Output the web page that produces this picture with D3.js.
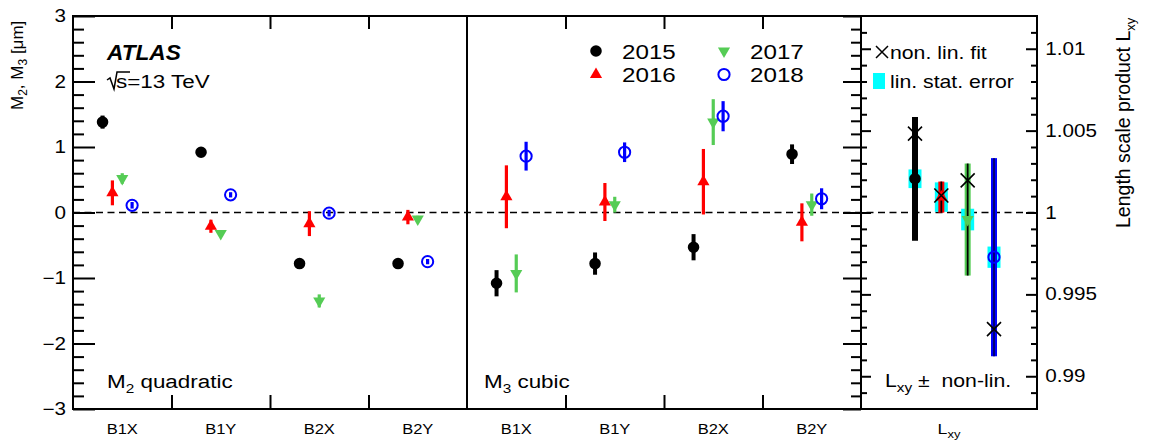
<!DOCTYPE html>
<html>
<head>
<meta charset="utf-8">
<script src="https://cdn.jsdelivr.net/npm/d3@7/dist/d3.min.js"></script>
<style>
  html, body { margin: 0; padding: 0; background: #fff; }
  svg { display: block; }
  text { font-family: "Liberation Sans", Arial, Helvetica, sans-serif; fill: #000; }
</style>
</head>
<body>
<svg id="chart" width="1150" height="440"></svg>
<script>
// ---------------- DATA ----------------
const bins = ["B1X", "B1Y", "B2X", "B2Y"];
const years = ["2015", "2016", "2017", "2018"];
const yearColors = ["#000000", "#ff0000", "#55cc55", "#0000ff"];

// M2 quadratic [µm], per year, order B1X, B1Y, B2X, B2Y
const m2_2015 = [1.38, 0.92, -0.78, -0.78];
const m2_2015_err = [0.10, 0.04, 0.06, 0.04];
const m2_2016 = [0.30, -0.21, -0.17, -0.07];
const m2_2016_err = [0.19, 0.10, 0.19, 0.11];
const m2_2017 = [0.52, -0.32, -1.35, -0.10];
const m2_2017_err = [0.08, 0.05, 0.10, 0.05];
const m2_2018 = [0.11, 0.27, -0.01, -0.75];
const m2_2018_err = [0.05, 0.04, 0.05, 0.04];

// M3 cubic [µm]
const m3_2015 = [-1.08, -0.78, -0.53, 0.89];
const m3_2015_err = [0.20, 0.17, 0.20, 0.15];
const m3_2016 = [0.24, 0.16, 0.47, -0.15];
const m3_2016_err = [0.48, 0.29, 0.50, 0.29];
const m3_2017 = [-0.93, 0.12, 1.38, 0.12];
const m3_2017_err = [0.29, 0.12, 0.35, 0.17];
const m3_2018 = [0.86, 0.92, 1.47, 0.21];
const m3_2018_err = [0.22, 0.15, 0.23, 0.16];

// Length scale product Lxy, per year
const lxyValue = [1.00206, 1.00094, 0.99957, 0.99727];
const lxyStatErr = [0.00057, 0.00090, 0.00066, 0.00065];
const lxyNonLinErr = [0.00377, 0.00095, 0.00342, 0.00605];
const lxyNonLinFit = [1.00482, 1.00104, 1.00196, 0.99288];

const leftTicks = [-3, -2, -1, 0, 1, 2, 3];
const rightTicks = [0.99, 0.995, 1, 1.005, 1.01];

// ---------------- LAYOUT ----------------
const svg = d3.select("#chart");
const X0 = 73, XM = 861, X1 = 1037, YT = 16, YB = 409;
const SX = 1.18; // horizontal glyph stretch of the reference text

const xBin = d3.scaleLinear().domain([0, 8]).range([X0, XM]);
const yearPos = d3.scalePoint().domain(years).range([0.3, 0.6]);
const xLxy = d3.scalePoint().domain(years).range([915, 994]);
const yL = d3.scaleLinear().domain([-3, 3]).range([YB, YT]);
const yR = d3.scaleLinear().domain([0.988, 1.012]).range([YB, YT]);

const m2 = [[m2_2015, m2_2015_err], [m2_2016, m2_2016_err], [m2_2017, m2_2017_err], [m2_2018, m2_2018_err]];
const m3 = [[m3_2015, m3_2015_err], [m3_2016, m3_2016_err], [m3_2017, m3_2017_err], [m3_2018, m3_2018_err]];

function stext(parent, x, y, size, anchor, sx) {
  return parent.append("g")
    .attr("transform", `translate(${x},${y}) scale(${sx == null ? SX : sx},1)`)
    .append("text").attr("font-size", size).attr("text-anchor", anchor || "start");
}

function marker(g, yi, cx, cy) {
  const col = yearColors[yi];
  if (yi === 0) {
    g.append("path").attr("d", d3.symbol(d3.symbolCircle, 105)())
      .attr("transform", `translate(${cx},${cy})`).attr("fill", col);
  } else if (yi === 1) {
    g.append("path").attr("d", d3.symbol(d3.symbolTriangle, 64)())
      .attr("transform", `translate(${cx},${cy})`).attr("fill", col);
  } else if (yi === 2) {
    g.append("path").attr("d", d3.symbol(d3.symbolTriangle, 64)())
      .attr("transform", `translate(${cx},${cy}) rotate(180)`).attr("fill", col);
  } else {
    g.append("circle").attr("cx", cx).attr("cy", cy).attr("r", 5.6)
      .attr("fill", "none").attr("stroke", col).attr("stroke-width", 2);
  }
}

// zero dashed line
svg.append("line").attr("x1", X0).attr("x2", X1).attr("y1", yL(0)).attr("y2", yL(0))
  .attr("stroke", "#000").attr("stroke-width", 1.6).attr("stroke-dasharray", "7,4.5");

// ---------------- M2 / M3 points ----------------
const gPts = svg.append("g");
[m2, m3].forEach((panel, pi) => {
  panel.forEach(([vals, errs], yi) => {
    vals.forEach((v, bi) => {
      const cx = xBin(pi * 4 + bi + yearPos(years[yi]));
      gPts.append("line").attr("x1", cx).attr("x2", cx)
        .attr("y1", yL(v - errs[bi])).attr("y2", yL(v + errs[bi]))
        .attr("stroke", yearColors[yi]).attr("stroke-width", yi === 0 ? 4 : 3.2);
      marker(gPts, yi, cx, yL(v));
    });
  });
});

// ---------------- Lxy panel ----------------
const gL = svg.append("g");
years.forEach((yr, i) => {
  const cx = xLxy(yr);
  gL.append("rect").attr("x", cx - 6.5).attr("width", 13)
    .attr("y", yR(lxyValue[i] + lxyStatErr[i]))
    .attr("height", yR(lxyValue[i] - lxyStatErr[i]) - yR(lxyValue[i] + lxyStatErr[i]))
    .attr("fill", "#00ffff");
});
years.forEach((yr, i) => {
  const cx = xLxy(yr);
  const top = yR(lxyValue[i] + lxyNonLinErr[i]);
  const bot = yR(lxyValue[i] - lxyNonLinErr[i]);
  gL.append("rect").attr("x", cx - 3).attr("width", 6).attr("y", top).attr("height", bot - top)
    .attr("fill", yearColors[i]);
  gL.append("line").attr("x1", cx).attr("x2", cx).attr("y1", top).attr("y2", bot)
    .attr("stroke", i === 3 ? "#000066" : "#000").attr("stroke-width", i === 0 ? 6 : 1.8);
  marker(gL, i, cx, yR(lxyValue[i]));
  const xy = yR(lxyNonLinFit[i]), h = 7;
  gL.append("path").attr("d", `M${cx - h},${xy - h}L${cx + h},${xy + h}M${cx - h},${xy + h}L${cx + h},${xy - h}`)
    .attr("stroke", "#000").attr("stroke-width", 1.6).attr("fill", "none");
});

// ---------------- Frame & axes ----------------
const frame = svg.append("g").attr("stroke", "#000").attr("stroke-width", 2).attr("fill", "none");
frame.append("rect").attr("x", X0).attr("y", YT).attr("width", X1 - X0).attr("height", YB - YT);
frame.append("line").attr("x1", xBin(4)).attr("x2", xBin(4)).attr("y1", YT).attr("y2", YB);
frame.append("line").attr("x1", XM).attr("x2", XM).attr("y1", YT).attr("y2", YB);

function styleAxis(g) {
  g.select(".domain").remove();
  g.selectAll(".tick line").attr("stroke", "#000").attr("stroke-width", 2);
}
const minorL = d3.range(-3, 3.001, 0.2).map(v => +v.toFixed(1)).filter(v => Math.abs(v - Math.round(v)) > 1e-6);
const minorR = d3.range(0.989, 1.0115, 0.001).map(v => +v.toFixed(3)).filter(v => !rightTicks.some(t => Math.abs(t - v) < 1e-6));

// left axis (labels + major ticks)
svg.append("g").attr("transform", `translate(${X0},0)`)
  .call(d3.axisLeft(yL).tickValues(leftTicks).tickSizeInner(-22).tickSizeOuter(0).tickPadding(6)
    .tickFormat(d3.format("d")))
  .call(styleAxis)
  .call(g => g.selectAll("text").attr("font-size", 17.5).attr("fill", "#000")
    .attr("font-family", null).attr("transform", `scale(${SX},1)`));
svg.append("g").attr("transform", `translate(${X0},0)`)
  .call(d3.axisLeft(yL).tickValues(minorL).tickSizeInner(-11).tickSizeOuter(0).tickFormat(""))
  .call(styleAxis);
// left-scale ticks on the Lxy divider, pointing into the M3 panel
svg.append("g").attr("transform", `translate(${XM},0)`)
  .call(d3.axisLeft(yL).tickValues(leftTicks).tickSizeInner(18).tickSizeOuter(0).tickFormat(""))
  .call(styleAxis);
svg.append("g").attr("transform", `translate(${XM},0)`)
  .call(d3.axisLeft(yL).tickValues(minorL).tickSizeInner(10).tickSizeOuter(0).tickFormat(""))
  .call(styleAxis);
// right axis
svg.append("g").attr("transform", `translate(${X1},0)`)
  .call(d3.axisRight(yR).tickValues(rightTicks).tickSizeInner(-11).tickSizeOuter(0).tickPadding(7)
    .tickFormat(d3.format("~g")))
  .call(styleAxis)
  .call(g => g.selectAll("text").attr("font-size", 17.5).attr("fill", "#000")
    .attr("font-family", null).attr("transform", `scale(${SX},1)`));
svg.append("g").attr("transform", `translate(${X1},0)`)
  .call(d3.axisRight(yR).tickValues(minorR).tickSizeInner(-6).tickSizeOuter(0).tickFormat(""))
  .call(styleAxis);
// right-scale ticks on the Lxy divider pointing into Lxy panel
svg.append("g").attr("transform", `translate(${XM},0)`)
  .call(d3.axisRight(yR).tickValues(rightTicks).tickSizeInner(10).tickSizeOuter(0).tickFormat(""))
  .call(styleAxis);
svg.append("g").attr("transform", `translate(${XM},0)`)
  .call(d3.axisRight(yR).tickValues(minorR).tickSizeInner(6).tickSizeOuter(0).tickFormat(""))
  .call(styleAxis);

// bottom/top: bin boundary ticks
const boundaries = [1, 2, 3, 5, 6, 7];
svg.append("g").attr("transform", `translate(0,${YB})`)
  .call(d3.axisBottom(xBin).tickValues(boundaries).tickSizeInner(-14).tickSizeOuter(0).tickFormat(""))
  .call(styleAxis);
svg.append("g").attr("transform", `translate(0,${YT})`)
  .call(d3.axisTop(xBin).tickValues(boundaries).tickSizeInner(-13).tickSizeOuter(0).tickFormat(""))
  .call(styleAxis);
// bin labels
const binLabels = bins.concat(bins);
binLabels.forEach((d, i) => {
  stext(svg, xBin(i + 0.5), 434, 14, "middle").text(d);
});
const lxLab = stext(svg, (XM + X1) / 2, 434, 15, "middle");
lxLab.append("tspan").text("L");
lxLab.append("tspan").attr("dy", 4).attr("font-size", 11).text("xy");

// axis titles
const tl = svg.append("text").attr("transform", "translate(23,110) rotate(-90)")
  .attr("text-anchor", "start").attr("font-size", 17);
tl.append("tspan").text("M");
tl.append("tspan").attr("dy", 4).attr("font-size", 12).text("2");
tl.append("tspan").attr("dy", -4).text(",\u00a0M");
tl.append("tspan").attr("dy", 4).attr("font-size", 12).text("3");
tl.append("tspan").attr("dy", -4).text("\u00a0[μm]");

const tr = svg.append("text").attr("transform", "translate(1130,228) rotate(-90)")
  .attr("text-anchor", "start").attr("font-size", 19.5);
tr.append("tspan").text("Length scale product L");
tr.append("tspan").attr("dy", 5).attr("font-size", 13).text("xy");

// ATLAS label
stext(svg, 107, 60, 22, "start", 1.03).attr("font-weight", "bold").attr("font-style", "italic").text("ATLAS");
svg.append("path").attr("d", "M107,80 L110,78 L114,89 L117,72 L130,72")
  .attr("fill", "none").attr("stroke", "#000").attr("stroke-width", 1.5);
stext(svg, 116, 88, 19, "start").text("s=13 TeV");

// panel labels
const p1 = stext(svg, 107, 388, 19, "start");
p1.append("tspan").text("M");
p1.append("tspan").attr("dy", 5).attr("font-size", 13).text("2");
p1.append("tspan").attr("dy", -5).text("\u00a0quadratic");
const p2 = stext(svg, 484, 388, 19, "start");
p2.append("tspan").text("M");
p2.append("tspan").attr("dy", 5).attr("font-size", 13).text("3");
p2.append("tspan").attr("dy", -5).text("\u00a0cubic");
const p3 = stext(svg, 885, 387, 18, "start");
p3.append("tspan").text("L");
p3.append("tspan").attr("dy", 5).attr("font-size", 13).text("xy");
p3.append("tspan").attr("dy", -5).text("\u00a0±\u00a0\u00a0non-lin.");

// year legend
const legPos = [[596, 51], [596, 74.5], [724, 51], [724, 74.5]];
const gLeg = svg.append("g");
years.forEach((yr, i) => {
  marker(gLeg, i, legPos[i][0], legPos[i][1]);
  stext(gLeg, legPos[i][0] + 26, legPos[i][1] + 7.5, 20.5, "start").text(yr);
});

// Lxy legend
svg.append("path").attr("d", "M876,46L888,58M876,58L888,46")
  .attr("stroke", "#000").attr("stroke-width", 1.5);
stext(svg, 890, 59, 18, "start").text("non. lin. fit");
svg.append("rect").attr("x", 873).attr("y", 73).attr("width", 12).attr("height", 16).attr("fill", "#00ffff");
stext(svg, 890, 88, 18, "start").text("lin. stat. error");
</script>
</body>
</html>
